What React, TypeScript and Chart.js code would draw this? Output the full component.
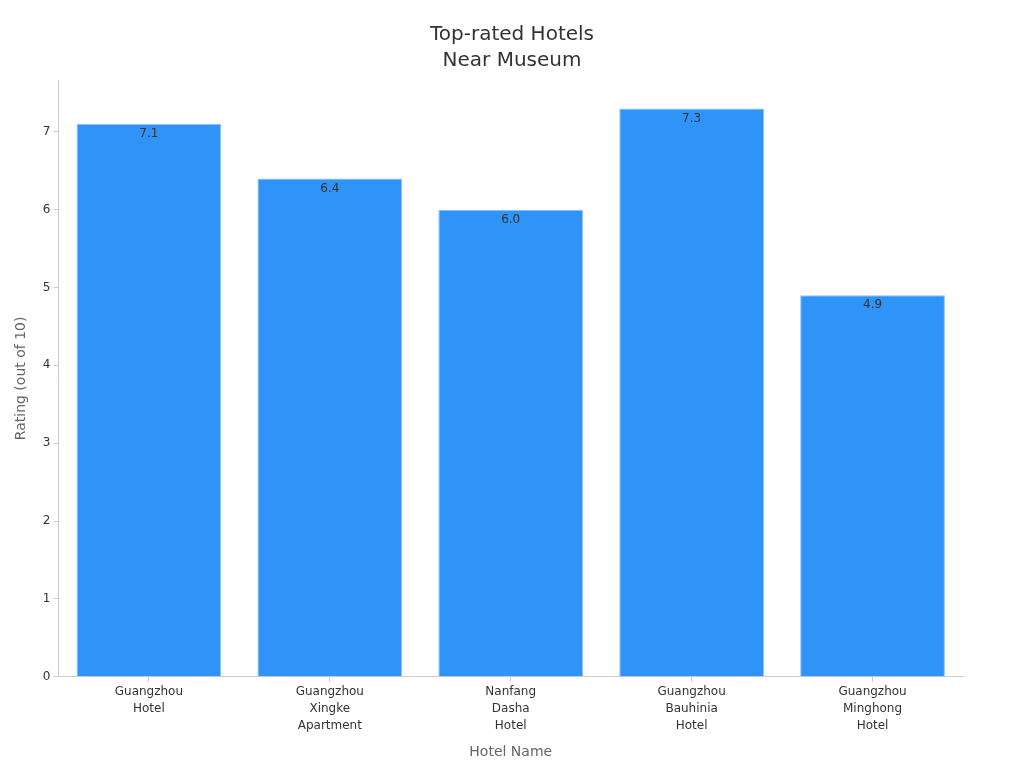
import React, { useEffect, useRef } from 'react';
import { Chart, registerables } from 'chart.js';

Chart.register(...registerables);

const titleLines: string[] = ['Top-rated Hotels', 'Near Museum'];
const hotelNames: string[][] = [
  ['Guangzhou', 'Hotel'],
  ['Guangzhou', 'Xingke', 'Apartment'],
  ['Nanfang', 'Dasha', 'Hotel'],
  ['Guangzhou', 'Bauhinia', 'Hotel'],
  ['Guangzhou', 'Minghong', 'Hotel'],
];
const ratings: number[] = [7.1, 6.4, 6.0, 7.3, 4.9];
const yTicks: number[] = [0, 1, 2, 3, 4, 5, 6, 7];

const FONT = "'DejaVu Sans', sans-serif";

// Title centred on the whole canvas (the built-in one centres on the padded box)
const centredTitle = {
  id: 'centredTitle',
  afterDraw(chart: Chart) {
    const { ctx } = chart;
    ctx.save();
    ctx.font = `20px ${FONT}`;
    ctx.fillStyle = '#333333';
    ctx.textAlign = 'center';
    ctx.textBaseline = 'middle';
    titleLines.forEach((line, i) => {
      ctx.fillText(line, chart.width / 2, 35 + i * 26);
    });
    ctx.restore();
  },
};

// Draw the value just inside the top of each bar
const valueLabels = {
  id: 'valueLabels',
  afterDatasetsDraw(chart: Chart) {
    const { ctx } = chart;
    const meta = chart.getDatasetMeta(0);
    ctx.save();
    ctx.font = `12px ${FONT}`;
    ctx.fillStyle = '#333333';
    ctx.textAlign = 'center';
    ctx.textBaseline = 'middle';
    meta.data.forEach((bar: any, i: number) => {
      ctx.fillText(ratings[i].toFixed(1), bar.x, bar.y + 10);
    });
    ctx.restore();
  },
};

const App: React.FC = () => {
  const canvasRef = useRef<HTMLCanvasElement>(null);
  const chartInstance = useRef<Chart | null>(null);

  useEffect(() => {
    document.body.style.margin = '0';
    if (!canvasRef.current) return;
    const ctx = canvasRef.current.getContext('2d');
    if (!ctx) return;

    chartInstance.current = new Chart(ctx, {
      type: 'bar',
      data: {
        labels: hotelNames,
        datasets: [
          {
            label: 'Rating',
            data: ratings,
            backgroundColor: '#2F93F8',
            borderColor: '#8CC3F7',
            borderWidth: 1,
            barPercentage: 0.8,
            categoryPercentage: 1.0,
          },
        ],
      },
      options: {
        responsive: true,
        maintainAspectRatio: false,
        animation: false,
        layout: { padding: { left: 13, right: 61, top: 80, bottom: 7 } },
        plugins: {
          legend: { display: false },
          tooltip: { enabled: false },
          title: { display: false },
        },
        scales: {
          x: {
            grid: {
              display: true,
              offset: false,
              drawOnChartArea: false,
              drawTicks: true,
              tickLength: 5,
              color: '#cccccc',
            },
            border: { display: true, color: '#cccccc' },
            ticks: {
              color: '#333333',
              font: { family: FONT, size: 12, lineHeight: 1.4 },
              padding: 2,
              maxRotation: 0,
            },
            title: {
              display: true,
              text: 'Hotel Name',
              color: '#666666',
              font: { family: FONT, size: 14 },
              padding: { top: 8, bottom: 0 },
            },
          },
          y: {
            min: 0,
            max: 7.665,
            afterBuildTicks: (axis: any) => {
              axis.ticks = yTicks.map((v) => ({ value: v }));
            },
            grid: {
              display: true,
              drawOnChartArea: false,
              drawTicks: true,
              tickLength: 5,
              color: '#cccccc',
            },
            border: { display: true, color: '#cccccc' },
            ticks: {
              color: '#333333',
              font: { family: FONT, size: 12 },
              padding: 3,
            },
            title: {
              display: true,
              text: 'Rating (out of 10)',
              color: '#666666',
              font: { family: FONT, size: 14 },
              padding: { top: 0, bottom: 10 },
            },
          },
        },
      },
      plugins: [valueLabels, centredTitle],
    });

    return () => {
      if (chartInstance.current) {
        chartInstance.current.destroy();
        chartInstance.current = null;
      }
    };
  }, []);

  return (
    <div style={{ position: 'relative', width: 1024, height: 768, background: '#ffffff' }}>
      <canvas ref={canvasRef} />
    </div>
  );
};

export default App;
